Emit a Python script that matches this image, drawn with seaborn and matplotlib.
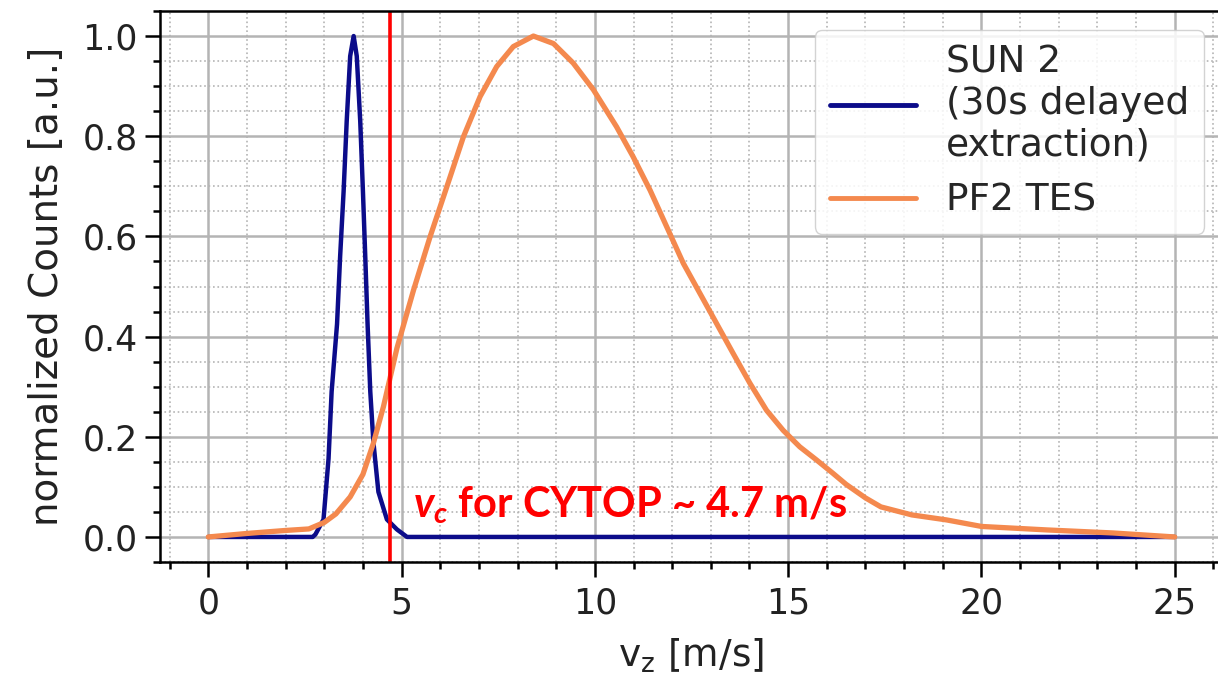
import numpy as np
import pandas as pd
import matplotlib
matplotlib.use("Agg")
import matplotlib.pyplot as plt
import seaborn as sns
from matplotlib.ticker import MultipleLocator

# SUN 2 (30s delayed extraction)
sun_v = [0, 1, 2, 2.7, 2.77, 2.98, 3.11, 3.19, 3.33, 3.41, 3.50, 3.58, 3.67, 3.76,
         3.84, 3.93, 4.00, 4.06, 4.12, 4.19, 4.27, 4.40, 4.62, 4.88, 5.14, 10, 15, 20, 25]
sun_n = [0, 0, 0, 0, 0.005, 0.035, 0.156, 0.29, 0.425, 0.56, 0.69, 0.83, 0.96, 1.0,
         0.96, 0.83, 0.69, 0.56, 0.425, 0.29, 0.19, 0.09, 0.035, 0.015, 0, 0, 0, 0, 0]

# PF2 TES
tes_v = [0, 1, 2, 2.6, 3.0, 3.3, 3.67, 4.0, 4.27, 4.53, 4.88, 5.31, 5.74, 6.17, 6.60,
         7.03, 7.46, 7.89, 8.41, 8.93, 9.44, 9.96, 10.56, 10.99, 11.43, 11.86, 12.29,
         12.72, 13.15, 13.58, 14.01, 14.44, 14.87, 15.3, 15.73, 16.16, 16.5, 17.0,
         17.4, 18.2, 19.1, 20.0, 21.7, 23.4, 25]
tes_n = [0, 0.007, 0.013, 0.016, 0.029, 0.046, 0.08, 0.125, 0.187, 0.26, 0.377, 0.493,
         0.60, 0.699, 0.799, 0.879, 0.939, 0.979, 1.0, 0.985, 0.946, 0.893, 0.819,
         0.759, 0.692, 0.619, 0.546, 0.486, 0.426, 0.366, 0.307, 0.253, 0.213, 0.18,
         0.154, 0.127, 0.105, 0.078, 0.06, 0.044, 0.034, 0.021, 0.014, 0.008, 0]

v_cut = 4.7

sns.set_style("ticks")
plt.rcParams['font.family'] = ['DejaVu Sans']
plt.rcParams['mathtext.fontset'] = 'dejavusans'
plt.rcParams['mathtext.it'] = 'Lato:bold:italic'

fig = plt.figure(figsize=(12.18, 6.76), dpi=100)
ax = fig.add_axes([160 / 1218, 114 / 676, 1063 / 1218, 551 / 676])

sns.lineplot(x=sun_v, y=sun_n, ax=ax, color="#0c0c8a", lw=3.2,
             label="SUN 2\n(30s delayed\nextraction)")
sns.lineplot(x=tes_v, y=tes_n, ax=ax, color="#f4894e", lw=3.8, label="PF2 TES")
ax.axvline(v_cut, color="red", lw=2.6)

ax.set_xlim(-1.25, 26.25)
ax.set_ylim(-0.05, 1.05)
ax.xaxis.set_major_locator(MultipleLocator(5))
ax.xaxis.set_minor_locator(MultipleLocator(1))
ax.yaxis.set_major_locator(MultipleLocator(0.2))
ax.yaxis.set_minor_locator(MultipleLocator(0.05))

ax.grid(which="major", color="#b4b4b4", lw=1.8)
ax.grid(which="minor", color="#b4b4b4", lw=1.2, ls=":")
ax.set_axisbelow(True)

for s in ax.spines.values():
    s.set_color("black")
    s.set_linewidth(1.8)
ax.tick_params(which="major", length=11, width=1.8, labelsize=25, pad=5, colors="black")
ax.tick_params(which="minor", length=5, width=1.8, colors="black")
ax.tick_params(axis="x", which="major", pad=7)
for t in ax.get_xticklabels() + ax.get_yticklabels():
    t.set_color("#222222")

ax.set_xlabel(r"v$_\mathrm{z}$ [m/s]", fontsize=27, color="#222222", labelpad=11)
ax.set_ylabel("normalized Counts [a.u.]", fontsize=28, color="#222222", labelpad=12)

ax.text(5.3, 0.04, r"$v_c$ for CYTOP ~ 4.7 m/s", color="red", fontsize=30,
        fontweight="bold", family="Lato", math_fontfamily="custom")

leg = ax.legend(loc="upper right", fontsize=27, handlelength=2.3, framealpha=0.85,
                edgecolor="#cccccc", borderaxespad=0.5)
for line in leg.get_lines():
    line.set_linewidth(3.5)

fig.savefig("out.png", dpi=100)
